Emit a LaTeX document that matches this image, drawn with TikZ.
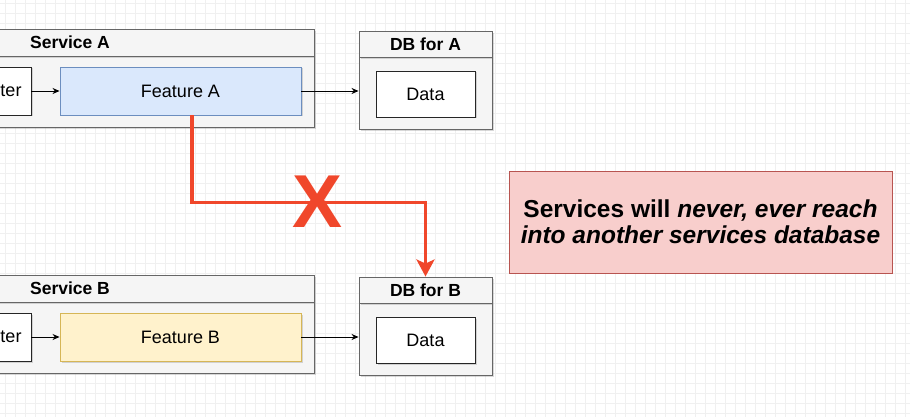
\documentclass[tikz,border=0pt]{standalone}
\usepackage{fontspec}
\setmainfont{Liberation Sans}
\usetikzlibrary{positioning, arrows.meta, shadows}

\definecolor{frameFill}{HTML}{F5F5F5}
\definecolor{frameLine}{HTML}{666666}
\definecolor{featBlue}{HTML}{DAE8FC}
\definecolor{featBlueLine}{HTML}{6C8EBF}
\definecolor{featYellow}{HTML}{FFF2CC}
\definecolor{featYellowLine}{HTML}{D6B656}
\definecolor{noteFill}{HTML}{F8CECC}
\definecolor{noteLine}{HTML}{B85450}
\definecolor{warnRed}{HTML}{F0472B}

\begin{document}
\begin{tikzpicture}[x=1pt,y=-1pt,
    frame/.style={draw=frameLine, fill=frameFill, line width=0.9pt, inner sep=0pt,
      drop shadow={shadow xshift=2pt, shadow yshift=-2pt, opacity=0.25, fill=black!60}},
    title/.style={font=\fontsize{17.5}{20}\selectfont\bfseries},
    plainbox/.style={draw=black!85, fill=white, line width=0.9pt, inner sep=0pt,
      font=\fontsize{18}{21}\selectfont,
      drop shadow={shadow xshift=1.5pt, shadow yshift=-1.5pt, opacity=0.25, fill=black!60}},
    link/.style={-{Stealth[length=7pt,width=6pt]}, line width=0.8pt, black}]
    \useasboundingbox (0,0) rectangle (910,417);
    \clip (0,0) rectangle (910,417);
    \fill[white] (0,0) rectangle (910,417);
    % background grid
    \foreach \g in {5,15,...,905} \draw[black!6, line width=0.5pt] (\g,0) -- (\g,417);
    \foreach \g in {3,13,...,413} \draw[black!6, line width=0.5pt] (0,\g) -- (910,\g);
    % two rows: service + its database
    \foreach \s/\dy/\fc/\lc in {A/0/featBlue/featBlueLine, B/246/featYellow/featYellowLine} {
        \node[frame, minimum width=488, minimum height=71] (svc\s body) at (70,91.5+\dy) {};
        \node[frame, title, minimum width=488, minimum height=27] (svc\s head) at (70,42.5+\dy) {Service \s};
        \node[plainbox, minimum width=71, minimum height=48, text width=52pt, align=right] (rt\s) at (-4.5,91+\dy) {ter};
        \node[plainbox, fill=\fc, draw=\lc, minimum width=241, minimum height=48] (feat\s) at (180.5,91+\dy) {Feature \s};
        \node[frame, minimum width=133, minimum height=72] (db\s body) at (425.5,93+\dy) {};
        \node[frame, title, minimum width=133, minimum height=26] (db\s head) at (425.5,44+\dy) {DB for \s};
        \node[plainbox, minimum width=99, minimum height=46] (data\s) at (425.5,94+\dy) {Data};
        \draw[link] (rt\s.east) -- (feat\s.west);
        \draw[link] (feat\s.east) -- (feat\s.east -| db\s body.west);
    }
    % forbidden access
    \draw[warnRed, line width=3.5pt, -{Stealth[length=17pt,width=18pt,inset=4pt]}]
        ([xshift=11.5pt]featA.south) -- ++(0,87) -| (dbBhead.north);
    \node[text=warnRed, font=\fontsize{75}{75}\selectfont\bfseries, inner sep=0pt] (cross) at (318,202) {X};
    \node[draw=noteLine, fill=noteFill, line width=0.9pt, minimum width=383, minimum height=102,
      align=center, font=\fontsize{24.5}{26}\selectfont\bfseries] (note) at (700.5,222)
      {Services will \textit{never, ever reach}\\\textit{into another services database}};
\end{tikzpicture}
\end{document}
